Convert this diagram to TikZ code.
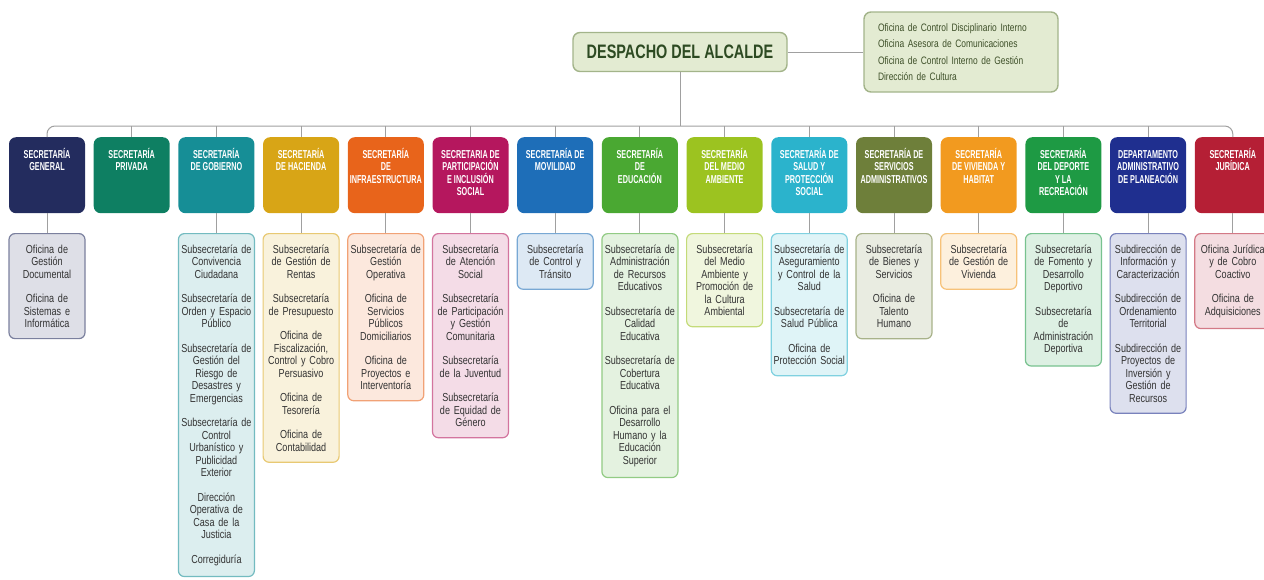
\documentclass[tikz,border=0pt]{standalone}
\usepackage{fontspec}
\usepackage{tikz}
\newfontfamily\headfont[FakeStretch=0.63]{Liberation Sans}
\newfontfamily\subfont[FakeStretch=0.78]{Liberation Sans}
\newfontfamily\mayorfont[FakeStretch=0.74]{Liberation Sans}

\definecolor{linegray}{HTML}{A0A0A0}
\definecolor{mayorfill}{HTML}{E3EBD2}
\definecolor{mayorline}{HTML}{A3B48A}
\definecolor{mayortext}{HTML}{2D4A22}
\definecolor{officetext}{HTML}{3E5029}
\definecolor{subtext}{HTML}{333333}
\definecolor{general}{HTML}{232C5E}
\definecolor{privada}{HTML}{0E7F62}
\definecolor{gobierno}{HTML}{168E96}
\definecolor{hacienda}{HTML}{D8A516}
\definecolor{infra}{HTML}{E8641B}
\definecolor{particip}{HTML}{B5175E}
\definecolor{movilidad}{HTML}{1E6EB8}
\definecolor{educacion}{HTML}{4AA832}
\definecolor{ambiente}{HTML}{9CC320}
\definecolor{salud}{HTML}{2BB3CC}
\definecolor{servicios}{HTML}{6E7F3A}
\definecolor{vivienda}{HTML}{F29A1F}
\definecolor{deporte}{HTML}{1E9A44}
\definecolor{planeacion}{HTML}{1F2F8F}
\definecolor{juridica}{HTML}{B51F35}

\newcommand\hdr[1]{\parbox[c][76pt][t]{74pt}{\centering\rule{0pt}{21pt}#1}}

\begin{document}
\begin{tikzpicture}[
      x=1pt, y=-1pt,
      link/.style={draw=linegray, line width=1pt},
      mayor/.style={draw=mayorline, fill=mayorfill, line width=1.4pt, rounded corners=7pt,
        minimum width=214pt, minimum height=39pt, text=mayortext,
        font=\mayorfont\bfseries\fontsize{19.5}{22}\selectfont},
      offices/.style={draw=mayorline, fill=mayorfill, line width=1.4pt, rounded corners=7pt,
        text width=166pt, inner xsep=14pt, minimum height=80pt, align=left, text=officetext,
        font=\subfont\fontsize{10.8}{16.5}\selectfont},
      head/.style={fill=#1, rounded corners=7pt, minimum width=76pt, minimum height=76pt,
        inner sep=0pt, anchor=north, text=white,
        font=\headfont\bfseries\fontsize{11.5}{12.5}\selectfont},
      sub/.style={draw=#1!60, fill=#1!15, line width=1.2pt, rounded corners=6pt, anchor=north,
        text width=72pt, inner xsep=2pt, inner ysep=11pt, align=center, text=subtext,
        font=\subfont\fontsize{11.6}{12.5}\selectfont}
    ]
    \useasboundingbox (0,0) rectangle (1264,579);
    % Draw the top level.
    \node[mayor] (mayor) at (680,52) {DESPACHO DEL ALCALDE};
    \node[offices] (offices) at (961,52) {Oficina de Control Disciplinario Interno\\
      Oficina Asesora de Comunicaciones\\Oficina de Control Interno de Gestión\\Dirección de Cultura};
    % Draw the secretarías.
    \node[head=general] (h1) at (47,137) {\hdr{SECRETARÍA\\GENERAL}};
    \node[head=privada] (h2) at (131.7,137) {\hdr{SECRETARÍA\\PRIVADA}};
    \node[head=gobierno] (h3) at (216.4,137) {\hdr{SECRETARÍA\\DE GOBIERNO}};
    \node[head=hacienda] (h4) at (301.1,137) {\hdr{SECRETARÍA\\DE HACIENDA}};
    \node[head=infra] (h5) at (385.8,137) {\hdr{SECRETARÍA\\DE\\INFRAESTRUCTURA}};
    \node[head=particip] (h6) at (470.5,137) {\hdr{SECRETARIA DE\\PARTICIPACIÓN\\E INCLUSIÓN\\SOCIAL}};
    \node[head=movilidad] (h7) at (555.2,137) {\hdr{SECRETARÍA DE\\MOVILIDAD}};
    \node[head=educacion] (h8) at (639.9,137) {\hdr{SECRETARÍA\\DE\\EDUCACIÓN}};
    \node[head=ambiente] (h9) at (724.6,137) {\hdr{SECRETARÍA\\DEL MEDIO\\AMBIENTE}};
    \node[head=salud] (h10) at (809.3,137) {\hdr{SECRETARÍA DE\\SALUD Y\\PROTECCIÓN\\SOCIAL}};
    \node[head=servicios] (h11) at (894,137) {\hdr{SECRETARÍA DE\\SERVICIOS\\ADMINISTRATIVOS}};
    \node[head=vivienda] (h12) at (978.7,137) {\hdr{SECRETARÍA\\DE VIVIENDA Y\\HABITAT}};
    \node[head=deporte] (h13) at (1063.4,137) {\hdr{SECRETARÍA\\DEL DEPORTE\\Y LA\\RECREACIÓN}};
    \node[head=planeacion] (h14) at (1148.1,137) {\hdr{DEPARTAMENTO\\ADMINISTRATIVO\\DE PLANEACIÓN}};
    \node[head=juridica] (h15) at (1232.8,137) {\hdr{SECRETARÍA\\JURÍDICA}};
    % Draw the dependencias.
    \node[sub=general] (b1) at (47,233) {Oficina de\\Gestión\\Documental\\[12pt]Oficina de\\Sistemas e\\Informática};
    \node[sub=gobierno] (b3) at (216.4,233) {Subsecretaría de\\Convivencia\\Ciudadana\\[12pt]Subsecretaría de\\Orden y Espacio\\Público\\[12pt]Subsecretaría de\\Gestión del\\Riesgo de\\Desastres y\\Emergencias\\[12pt]Subsecretaría de\\Control\\Urbanístico y\\Publicidad\\Exterior\\[12pt]Dirección\\Operativa de\\Casa de la\\Justicia\\[12pt]Corregiduría};
    \node[sub=hacienda] (b4) at (301.1,233) {Subsecretaría\\de Gestión de\\Rentas\\[12pt]Subsecretaría\\de Presupuesto\\[12pt]Oficina de\\Fiscalización,\\Control y Cobro\\Persuasivo\\[12pt]Oficina de\\Tesorería\\[12pt]Oficina de\\Contabilidad};
    \node[sub=infra] (b5) at (385.8,233) {Subsecretaría de\\Gestión\\Operativa\\[12pt]Oficina de\\Servicios\\Públicos\\Domiciliarios\\[12pt]Oficina de\\Proyectos e\\Interventoría};
    \node[sub=particip] (b6) at (470.5,233) {Subsecretaría\\de Atención\\Social\\[12pt]Subsecretaría\\de Participación\\y Gestión\\Comunitaria\\[12pt]Subsecretaría\\de la Juventud\\[12pt]Subsecretaría\\de Equidad de\\Género};
    \node[sub=movilidad] (b7) at (555.2,233) {Subsecretaría\\de Control y\\Tránsito};
    \node[sub=educacion] (b8) at (639.9,233) {Subsecretaría de\\Administración\\de Recursos\\Educativos\\[12pt]Subsecretaría de\\Calidad\\Educativa\\[12pt]Subsecretaría de\\Cobertura\\Educativa\\[12pt]Oficina para el\\Desarrollo\\Humano y la\\Educación\\Superior};
    \node[sub=ambiente] (b9) at (724.6,233) {Subsecretaría\\del Medio\\Ambiente y\\Promoción de\\la Cultura\\Ambiental};
    \node[sub=salud] (b10) at (809.3,233) {Subsecretaría de\\Aseguramiento\\y Control de la\\Salud\\[12pt]Subsecretaría de\\Salud Pública\\[12pt]Oficina de\\Protección Social};
    \node[sub=servicios] (b11) at (894,233) {Subsecretaría\\de Bienes y\\Servicios\\[12pt]Oficina de\\Talento\\Humano};
    \node[sub=vivienda] (b12) at (978.7,233) {Subsecretaría\\de Gestión de\\Vivienda};
    \node[sub=deporte] (b13) at (1063.4,233) {Subsecretaría\\de Fomento y\\Desarrollo\\Deportivo\\[12pt]Subsecretaría\\de\\Administración\\Deportiva};
    \node[sub=planeacion] (b14) at (1148.1,233) {Subdirección de\\Información y\\Caracterización\\[12pt]Subdirección de\\Ordenamiento\\Territorial\\[12pt]Subdirección de\\Proyectos de\\Inversión y\\Gestión de\\Recursos};
    \node[sub=juridica] (b15) at (1232.8,233) {Oficina Jurídica\\y de Cobro\\Coactivo\\[12pt]Oficina de\\Adquisiciones};
    % Draw the connectors.
    \coordinate (bus) at (680,126);
    \draw[link] (mayor) -- (offices);
    \draw[link] (mayor.south) -- (bus);
    \draw[link, rounded corners=8pt] (h1.north) |- (bus) -| (h15.north);
    \foreach \i in {2,...,14} \draw[link] (h\i.north) -- (h\i.north |- bus);
    \foreach \i in {1,3,4,...,15} \draw[link] (h\i.south) -- (b\i.north);
\end{tikzpicture}
\end{document}
